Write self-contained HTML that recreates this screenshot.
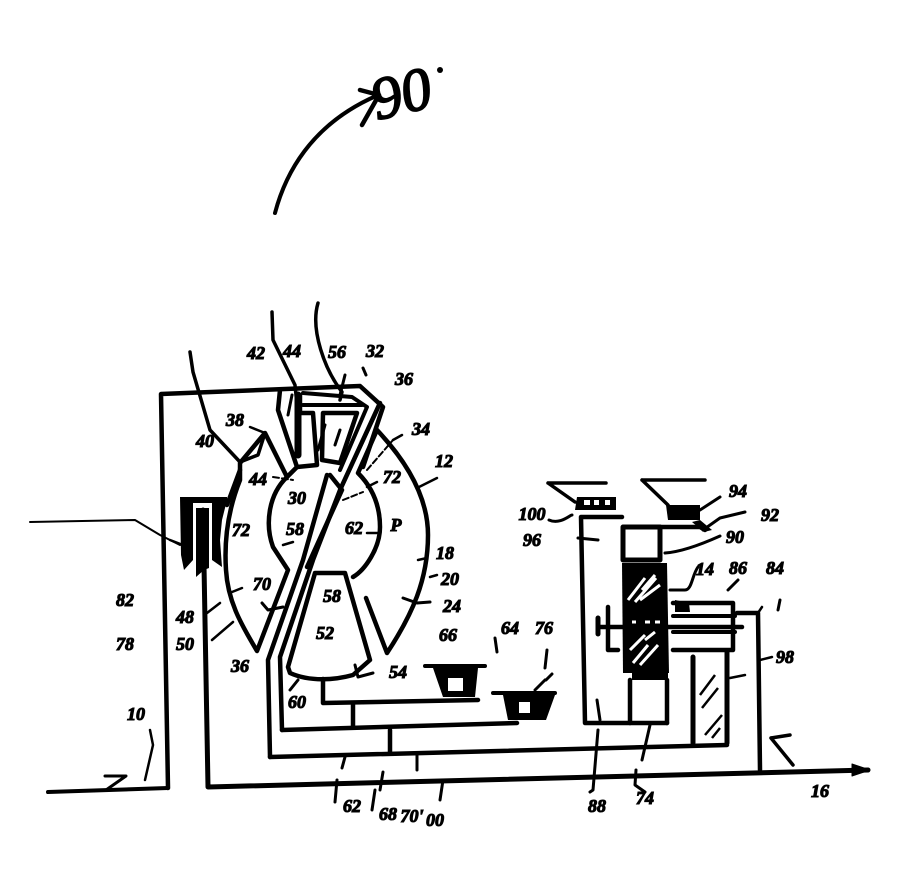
<!DOCTYPE html>
<html><head><meta charset="utf-8"><style>
html,body{margin:0;padding:0;background:#fff}
svg{display:block}
text{font-family:"Liberation Serif",serif;font-style:italic;font-weight:bold;fill:#000;font-size:18px;text-anchor:middle;stroke:#000;stroke-width:1.1px}
</style></head><body>
<svg width="912" height="885" viewBox="0 0 912 885" xmlns="http://www.w3.org/2000/svg">
<g fill="none" stroke="#000" stroke-width="4.5" stroke-linejoin="round" stroke-linecap="round">
<!-- top arrow -->
<path d="M275 213C285 175 310 125 376 96" stroke-width="4"/>
<path d="M360 90L379 95L362 125" stroke-width="4.5"/>
<!-- housing -->
<path d="M168 788L161 394L360 386L383 407L363 467"/>
<path d="M48 792L168 788" stroke-width="4"/>
<path d="M105 776H126L106 790" stroke-width="3"/>
<path d="M150 730L153 745L145 780" stroke-width="2.5"/>
<path d="M30 522L135 520L160 535L180 545" stroke-width="2"/>
<path d="M377 410L340 490" stroke-width="4"/>
<!-- shaft long -->
<path d="M203 510L208 787L868 770" stroke-width="5"/>
<path d="M870 770L852 764V776Z" fill="#000" stroke-width="1"/>
<!-- torus outer right -->
<path d="M377 430C410 465 428 500 428 535C428 580 412 615 387 653L366 598"/>
<path d="M353 577C365 570 380 548 380 527C380 505 372 487 358 473L377 430"/>
<!-- left torus -->
<path d="M240 463L240 480C228 510 224 540 226 570C228 605 245 630 257 651L288 570L273 547C265 525 268 495 287 477L265 433L240 463"/>
<path d="M287 477L297 467M240 470L227 505"/>
<!-- concentric lines -->
<path d="M282 730L280 657L313 560L340 490L380 403"/>
<path d="M270 757L268 660L303 560L327 475"/>
<path d="M307 567L342 490L330 475"/>
<path d="M282 730L517 723"/>
<path d="M270 757L727 745"/>
<path d="M353 703V727M390 730V752"/>
<!-- pentagon -->
<path d="M288 667L315 573H345L370 660L353 675C335 680 310 682 290 673Z"/>
<path d="M323 679V703L478 700"/>
<!-- cups -->
<path d="M280 390L278 410L297 467L317 465L313 413H300L300 395"/>
<path d="M323 413L322 460L340 463L357 413Z"/>
<path d="M303 393L352 397L367 407L340 470M303 405H362" stroke-width="4"/>
<path d="M298 395V455" stroke-width="7"/>
<path d="M292 395L288 415M325 425L318 450M340 430L335 445" stroke-width="3"/>
<!-- lead lines -->
<path d="M190 352L193 372L210 430L240 462L258 455L265 433" stroke-width="3.5"/>
<path d="M272 312L273 340L295 385L299 425" stroke-width="3.5"/>
<path d="M318 303C310 330 325 370 342 392L340 400" stroke-width="3.5"/>
<path d="M345 375L340 395M363 368L366 375" stroke-width="3"/>
<path d="M367 470L393 440M343 500L363 492M273 477L293 480" stroke-width="2" stroke-dasharray="6 3"/>
<path d="M393 440L402 435M367 487L377 482M417 488L437 478M250 427L265 433M283 545L293 542M170 540L183 545M367 533L377 533M232 592L242 588M207 613L220 603M212 640L233 622M418 560L427 558M430 577L437 575" stroke-width="2.5"/>
<path d="M262 603L268 610L283 607M403 598L417 603L430 602M290 690L298 680M355 665L358 677L373 673" stroke-width="3"/>
<!-- bottom leads -->
<path d="M345 757L342 768M337 780L335 802M417 755V770M443 780L440 800M383 772L380 790M375 790L372 810" stroke-width="3"/>
<!-- right member -->
<path d="M622 517H581L585 723H667"/>
<path d="M623 527H660V560H623Z" stroke-width="5"/>
<path d="M630 680V723M667 680V723"/>
<path d="M608 607V650H618" stroke-width="4.5"/>
<path d="M598 618V634" stroke-width="5"/>
<path d="M673 603H733V650H673" stroke-width="4.5"/>
<path d="M600 627H742" stroke-width="4.5"/>
<path d="M673 616H735M673 632H735" stroke-width="4"/>
<path d="M693 657V743M727 652V743" stroke-width="5"/>
<path d="M737 613H758L760 770" stroke-width="4.5"/>
<path d="M758 613L762 607M760 660L772 657M730 678L745 675" stroke-width="2.5"/>
<path d="M771 738L790 735M771 738L793 765" stroke-width="3.5"/>
<!-- leader right member -->
<path d="M598 540L578 538M549 520C560 525 570 515 572 515M665 553C680 552 700 545 720 536M670 590H685C692 590 692 575 698 567M728 590L738 580M703 530L720 518L745 512M700 510L720 497" stroke-width="3"/>
<path d="M597 700L600 720M598 730L593 790L590 792M650 725L642 760M636 770L635 785L645 792M780 600L778 610" stroke-width="3"/>
<!-- stator tops -->
<path d="M548 483H606M548 483L575 502" stroke-width="3.5"/>
<path d="M642 480H705M642 480L668 505" stroke-width="3.5"/>
<path d="M660 527H700L705 530" stroke-width="4.5"/>
<!-- small stators -->
<path d="M425 666H485M493 693H555" stroke-width="4"/>
<path d="M495 638L497 652M547 650L545 668M535 690L545 680M546 680L552 674" stroke-width="3"/>
</g>
<g fill="#000" stroke="none">
<!-- clutch block -->
<path d="M180 497H227V500L222 520L220 540L222 567L212 560V503H193V560L184 570L181 555Z"/>
<path d="M196 508H209V568L204 570L196 577Z"/>
<!-- gear 14 -->
<path d="M622 563H667L669 673H623Z"/>
<path d="M675 600L689 603L690 612H675Z"/>
<path d="M632 672H668V680H632Z"/>
<!-- stator blocks -->
<path d="M433 668H478L475 697H443Z"/>
<path d="M503 695H555L546 720H508Z"/>
<path d="M577 497H616V510H575Z"/>
<path d="M666 505H700V520H668Z"/>
<path d="M700 520L712 530L704 532L692 522Z"/>
</g>
<g fill="#fff">
<rect x="448" y="678" width="15" height="13"/>
<rect x="519" y="702" width="11" height="11"/>
<rect x="584" y="500" width="6" height="5"/><rect x="594" y="500" width="5" height="5"/><rect x="605" y="500" width="5" height="5"/>
</g>
<g fill="none" stroke="#fff" stroke-width="3">
<path d="M628 600L645 578M635 602L656 578M640 600L660 585M642 590L655 575"/>
<path d="M633 663L648 645M640 665L658 645M630 650L645 635M645 640L655 632"/>
<path d="M632 622H636M645 622H650M655 622H660"/>
</g>
<g fill="none" stroke="#000" stroke-width="2.5">
<path d="M700 695L715 675M702 708L718 688M705 735L722 715M712 738L720 728"/>
</g>
<g>
<text x="406" y="113" transform="rotate(-14 406 113)" style="font-size:60px;font-weight:normal;stroke-width:1.8px">90</text>
<circle cx="440" cy="70" r="3" fill="#000"/>
<text x="256" y="359">42</text><text x="292" y="357">44</text><text x="337" y="358">56</text>
<text x="375" y="357">32</text><text x="404" y="385">36</text><text x="421" y="435">34</text>
<text x="444" y="467">12</text><text x="235" y="426">38</text><text x="205" y="447">40</text>
<text x="258" y="485">44</text><text x="297" y="504">30</text><text x="295" y="535">58</text>
<text x="392" y="483">72</text><text x="354" y="534">62</text><text x="396" y="531">P</text>
<text x="241" y="536">72</text><text x="262" y="590">70</text><text x="332" y="602">58</text>
<text x="325" y="639">52</text><text x="398" y="678">54</text><text x="240" y="672">36</text>
<text x="185" y="623">48</text><text x="185" y="650">50</text><text x="125" y="606">82</text>
<text x="125" y="650">78</text><text x="136" y="720">10</text><text x="297" y="708">60</text>
<text x="445" y="559">18</text><text x="450" y="585">20</text><text x="452" y="612">24</text>
<text x="448" y="641">66</text><text x="510" y="634">64</text><text x="544" y="634">76</text>
<text x="352" y="812">62</text><text x="388" y="820">68</text><text x="412" y="822">70'</text>
<text x="435" y="826">00</text><text x="532" y="520">100</text><text x="532" y="546">96</text>
<text x="738" y="497">94</text><text x="770" y="521">92</text><text x="735" y="543">90</text>
<text x="705" y="575">14</text><text x="738" y="574">86</text><text x="775" y="574">84</text>
<text x="785" y="663">98</text><text x="597" y="812">88</text><text x="645" y="804">74</text>
<text x="820" y="797">16</text>
</g>
</svg>
</body></html>
